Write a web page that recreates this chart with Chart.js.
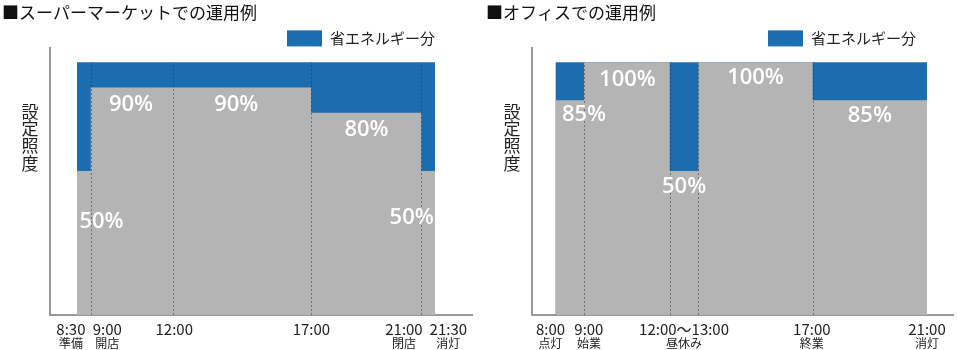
<!DOCTYPE html>
<html lang="ja">
<head>
<meta charset="utf-8">
<script src="https://cdn.jsdelivr.net/npm/chart.js@4.4.1/dist/chart.umd.min.js"></script>
<style>
  body { margin: 0; background: #fff; }
  .wrap { display: flex; width: 957px; height: 350px; }
  .panel { position: relative; height: 350px; }
</style>
</head>
<body>
<div class="wrap">
  <div class="panel" style="width:478px"><canvas id="superChart"></canvas></div>
  <div class="panel" style="width:479px"><canvas id="officeChart"></canvas></div>
</div>
<script>
// ---- スーパーマーケット ----
const superTimes = [8.5, 9, 17, 21, 21.5];
const superLevel = [57, 90, 80, 57, 57];
const superDividers = [9, 12, 17, 21];
const superPct = ['90%', '90%', '80%', '50%', '50%'];
const superPctAt = [10.46, 14.28, 19.01, 9.39, 20.65];
const superPctY = [83.4, 83.4, 73.4, 36.9, 38.5];
const superTickAt = [8.28, 9.6, 12.03, 17.01, 20.37, 21.98];
const superTimeLabels = ['8:30', '9:00', '12:00', '17:00', '21:00', '21:30'];
const superNotes = ['準備', '開店', '', '', '閉店', '消灯'];

// ---- オフィス ----
const officeTimes = [8, 9, 12, 13, 17, 21];
const officeLevel = [85, 100, 57, 100, 85, 85];
const officeDividers = [9, 12, 13, 17];
const officePct = ['85%', '100%', '50%', '100%', '85%'];
const officePctAt = [9.0, 10.52, 12.5, 15.0, 19.0];
const officePctY = [79.1, 93.1, 50.7, 93.7, 78.8];
const officeTickAt = [7.83, 9.17, 12.5, 16.97, 21.0];
const officeTimeLabels = ['8:00', '9:00', '12:00〜13:00', '17:00', '21:00'];
const officeNotes = ['点灯', '始業', '昼休み', '終業', '消灯'];

const fullLevel = 100;
const BLUE = '#1b6db0';
const GRAY = '#b4b4b4';
const CJK = '"Noto Sans CJK JP", "Noto Sans", sans-serif';

const markPlugin = {
  id: 'marks',
  afterDatasetsDraw(chart, args, opts) {
    const { ctx, chartArea, scales: { x, y } } = chart;
    ctx.save();
    // 区切りの点線
    ctx.strokeStyle = 'rgba(50,50,50,0.5)';
    ctx.lineWidth = 1;
    ctx.setLineDash([2, 2]);
    opts.dividers.forEach(t => {
      const px = Math.round(x.getPixelForValue(t)) + 0.5;
      ctx.beginPath();
      ctx.moveTo(px, y.getPixelForValue(0));
      ctx.lineTo(px, y.getPixelForValue(fullLevel));
      ctx.stroke();
    });
    ctx.setLineDash([]);
    // %ラベル
    ctx.fillStyle = '#fff';
    ctx.font = '600 22px "Open Sans"';
    ctx.textAlign = 'center';
    ctx.textBaseline = 'middle';
    opts.pct.forEach((s, i) => {
      ctx.fillText(s, x.getPixelForValue(opts.pctAt[i]), y.getPixelForValue(opts.pctY[i]));
    });
    // 凡例
    const ds = chart.data.datasets[1];
    ctx.font = '15px ' + CJK;
    ctx.fillStyle = '#222';
    ctx.textAlign = 'right';
    const tx = chartArea.right - 37;
    const ly = chartArea.top - 10;
    ctx.fillText(ds.label, tx, ly);
    const w = ctx.measureText(ds.label).width;
    ctx.fillStyle = ds.backgroundColor;
    ctx.fillRect(tx - w - 8 - 35, ly - 8, 35, 16);
    // 縦書きの軸タイトル
    ctx.font = '17px ' + CJK;
    ctx.fillStyle = '#222';
    ctx.textAlign = 'center';
    [...opts.yTitle].forEach((c, i) => {
      ctx.fillText(c, chartArea.left - 20, chartArea.top + 63 + i * 17.3);
    });
    ctx.restore();
  }
};

function makeChart(id, o) {
  const last = o.times[o.times.length - 1];
  const tickScale = (labels, size, pad, h, weight, border) => ({
    type: 'linear',
    position: 'bottom',
    min: o.min,
    max: o.max,
    weight: weight,
    grid: { display: false, drawTicks: false },
    border: border ? { display: true, color: '#999', width: 2 } : { display: false },
    ticks: {
      autoSkip: false,
      maxRotation: 0,
      padding: pad,
      color: '#222',
      font: { family: CJK, size: size },
      callback: (v, i) => labels[i]
    },
    afterBuildTicks: s => { s.ticks = o.tickAt.map(v => ({ value: v })); },
    afterFit: s => { s.height = h; }
  });

  return new Chart(document.getElementById(id), {
    type: 'line',
    data: {
      datasets: [
        {
          label: '設定照度',
          data: o.times.map((t, i) => ({ x: t, y: o.level[i] })),
          stepped: true,
          fill: 'origin',
          backgroundColor: GRAY,
          borderColor: 'transparent',
          borderWidth: 0,
          pointRadius: 0
        },
        {
          label: '省エネルギー分',
          data: [{ x: o.times[0], y: fullLevel }, { x: last, y: fullLevel }],
          fill: 'origin',
          backgroundColor: BLUE,
          borderColor: 'transparent',
          borderWidth: 0,
          pointRadius: 0
        }
      ]
    },
    options: {
      responsive: true,
      maintainAspectRatio: false,
      animation: false,
      layout: { padding: { left: o.padLeft, right: o.padRight, top: 0, bottom: 0 } },
      plugins: {
        legend: { display: false },
        tooltip: { enabled: false },
        title: {
          display: true,
          text: o.title,
          align: 'start',
          color: '#111',
          font: { family: CJK, size: 17, weight: 'normal' },
          padding: { top: 2, bottom: 26 }
        },
        marks: {
          dividers: o.dividers,
          pct: o.pct,
          pctAt: o.pctAt,
          pctY: o.pctY,
          yTitle: '設定照度'
        }
      },
      scales: {
        x: tickScale(o.timeLabels, 15, 5, 21, 0, true),
        x2: tickScale(o.notes, 12, 0, 14, 1, false),
        y: {
          min: 0,
          max: 105.5,
          grid: { display: false, drawTicks: false },
          border: { display: true, color: '#999', width: 2 },
          ticks: { display: false },
          afterFit: s => { s.width = o.axisWidth; }
        }
      }
    },
    plugins: [markPlugin]
  });
}

makeChart('superChart', {
  title: '■スーパーマーケットでの運用例',
  times: superTimes, level: superLevel, dividers: superDividers,
  pct: superPct, pctAt: superPctAt, pctY: superPctY,
  tickAt: superTickAt, timeLabels: superTimeLabels, notes: superNotes,
  min: 7.52, max: 22.84, padLeft: 2, padRight: 6, axisWidth: 48
});

makeChart('officeChart', {
  title: '■オフィスでの運用例',
  times: officeTimes, level: officeLevel, dividers: officeDividers,
  pct: officePct, pctAt: officePctAt, pctY: officePctY,
  tickAt: officeTickAt, timeLabels: officeTimeLabels, notes: officeNotes,
  min: 7.18, max: 21.91, padLeft: 8, padRight: 4, axisWidth: 46
});
</script>
</body>
</html>
